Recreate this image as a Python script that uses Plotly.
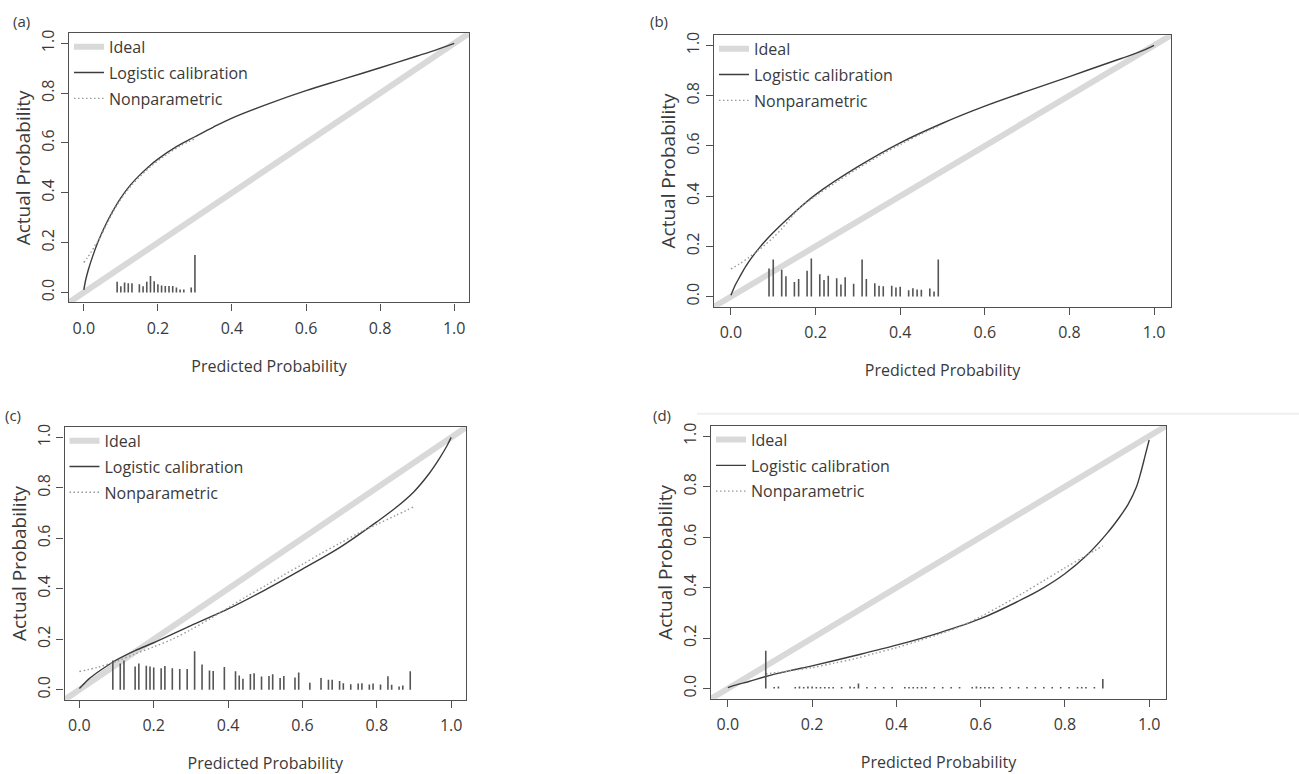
import plotly.graph_objects as go

# ---------------- data ----------------
ideal_x = [-0.1, 1.1]
ideal_y = [-0.1, 1.1]

# (a)
a_log_x = [0, 0.005, 0.013, 0.025, 0.036, 0.055, 0.075, 0.10, 0.125, 0.15, 0.175, 0.20, 0.25, 0.30, 0.35, 0.40, 0.50, 0.60, 0.70, 0.80, 0.90, 0.95, 1.0]
a_log_y = [0.01, 0.05, 0.095, 0.15, 0.195, 0.26, 0.318, 0.38, 0.43, 0.47, 0.505, 0.535, 0.585, 0.625, 0.664, 0.70, 0.758, 0.81, 0.856, 0.902, 0.949, 0.973, 1.0]
a_np_x = [0.0, 0.01, 0.02, 0.03, 0.04, 0.06, 0.09, 0.13, 0.18, 0.22, 0.26, 0.30]
a_np_y = [0.12, 0.14, 0.163, 0.188, 0.21, 0.268, 0.352, 0.432, 0.505, 0.55, 0.588, 0.617]
a_spk_x = [0.09, 0.10, 0.11, 0.12, 0.13, 0.15, 0.16, 0.17, 0.18, 0.19, 0.20, 0.21, 0.22, 0.23, 0.24, 0.25, 0.26, 0.27, 0.29, 0.30]
a_spk_h = [0.043, 0.025, 0.040, 0.037, 0.037, 0.033, 0.025, 0.043, 0.066, 0.045, 0.033, 0.028, 0.026, 0.026, 0.026, 0.020, 0.012, 0.012, 0.020, 0.150]

# (b)
b_log_x = [0, 0.01, 0.02, 0.035, 0.05, 0.07, 0.10, 0.15, 0.20, 0.30, 0.40, 0.50, 0.60, 0.70, 0.80, 0.90, 0.95, 0.98, 1.0]
b_log_y = [0.005, 0.045, 0.076, 0.12, 0.157, 0.20, 0.255, 0.335, 0.406, 0.517, 0.612, 0.69, 0.758, 0.818, 0.876, 0.935, 0.964, 0.984, 1.0]
b_np_x = [0, 0.02, 0.04, 0.06, 0.08, 0.10, 0.12, 0.14, 0.16, 0.20, 0.25, 0.30, 0.35, 0.40, 0.45, 0.49]
b_np_y = [0.11, 0.13, 0.153, 0.178, 0.205, 0.235, 0.27, 0.31, 0.35, 0.40, 0.457, 0.51, 0.56, 0.605, 0.648, 0.678]
b_spk_x = [0.09, 0.10, 0.12, 0.13, 0.15, 0.16, 0.18, 0.19, 0.21, 0.22, 0.23, 0.25, 0.26, 0.27, 0.29, 0.31, 0.32, 0.34, 0.35, 0.36,
           0.38, 0.39, 0.40, 0.42, 0.43, 0.44, 0.45, 0.47, 0.48, 0.49]
b_spk_h = [0.112, 0.148, 0.107, 0.081, 0.058, 0.070, 0.103, 0.152, 0.089, 0.066, 0.083, 0.073, 0.048, 0.077, 0.051, 0.148, 0.070, 0.053, 0.043, 0.041,
           0.043, 0.036, 0.039, 0.025, 0.033, 0.028, 0.027, 0.032, 0.020, 0.148]

# (c)
c_log_x = [0, 0.01, 0.025, 0.05, 0.075, 0.10, 0.15, 0.20, 0.30, 0.40, 0.50, 0.60, 0.70, 0.80, 0.85, 0.90, 0.94, 0.97, 0.99, 1.0]
c_log_y = [0.005, 0.02, 0.042, 0.07, 0.095, 0.118, 0.155, 0.186, 0.254, 0.32, 0.396, 0.478, 0.563, 0.665, 0.72, 0.785, 0.855, 0.92, 0.97, 1.0]
c_np_x = [0, 0.05, 0.10, 0.15, 0.20, 0.25, 0.30, 0.35, 0.40, 0.45, 0.50, 0.55, 0.60, 0.65, 0.70, 0.75, 0.80, 0.85, 0.90]
c_np_y = [0.072, 0.089, 0.112, 0.142, 0.17, 0.20, 0.238, 0.28, 0.325, 0.37, 0.412, 0.455, 0.497, 0.54, 0.58, 0.62, 0.655, 0.69, 0.725]
c_spk_x = [0.09, 0.11, 0.12, 0.15, 0.16, 0.18, 0.19, 0.20, 0.22, 0.23, 0.25, 0.27, 0.29, 0.31, 0.33, 0.35, 0.36, 0.39, 0.42, 0.43,
           0.44, 0.46, 0.47, 0.49, 0.51, 0.52, 0.54, 0.55, 0.58, 0.59, 0.62, 0.65, 0.67, 0.68, 0.70, 0.71, 0.73, 0.75, 0.76, 0.78,
           0.79, 0.81, 0.83, 0.84, 0.86, 0.87, 0.89]
c_spk_h = [0.116, 0.104, 0.116, 0.092, 0.104, 0.095, 0.092, 0.088, 0.085, 0.094, 0.085, 0.082, 0.082, 0.152, 0.100, 0.076, 0.074, 0.090, 0.073, 0.056,
           0.043, 0.062, 0.065, 0.052, 0.054, 0.061, 0.046, 0.054, 0.048, 0.068, 0.028, 0.046, 0.039, 0.039, 0.034, 0.026, 0.022, 0.025, 0.026, 0.021,
           0.025, 0.021, 0.053, 0.020, 0.013, 0.017, 0.073]

# (d)
d_log_x = [0, 0.02, 0.05, 0.09, 0.15, 0.20, 0.30, 0.40, 0.50, 0.60, 0.70, 0.75, 0.80, 0.85, 0.90, 0.93, 0.95, 0.97, 0.98, 0.99, 1.0]
d_log_y = [0.004, 0.015, 0.028, 0.048, 0.072, 0.09, 0.13, 0.172, 0.22, 0.277, 0.355, 0.40, 0.455, 0.525, 0.615, 0.68, 0.73, 0.80, 0.855, 0.92, 0.985]
d_np_x = [0.09, 0.12, 0.15, 0.20, 0.25, 0.30, 0.35, 0.40, 0.45, 0.50, 0.55, 0.60, 0.65, 0.70, 0.75, 0.80, 0.85, 0.89]
d_np_y = [0.058, 0.064, 0.071, 0.083, 0.10, 0.118, 0.14, 0.162, 0.188, 0.215, 0.245, 0.285, 0.33, 0.378, 0.428, 0.478, 0.527, 0.565]
d_spk_x = [0.09, 0.11, 0.12, 0.16, 0.17, 0.18, 0.19, 0.20, 0.21, 0.22, 0.23, 0.24, 0.25, 0.27, 0.29, 0.30, 0.31, 0.33, 0.35, 0.37,
           0.39, 0.42, 0.43, 0.44, 0.45, 0.46, 0.47, 0.49, 0.51, 0.53, 0.55, 0.58, 0.59, 0.60, 0.61, 0.62, 0.63, 0.65, 0.67, 0.69,
           0.71, 0.73, 0.75, 0.77, 0.79, 0.81, 0.83, 0.84, 0.85, 0.87, 0.89]
d_spk_h = [0.150, 0.006, 0.008, 0.006, 0.008, 0.006, 0.008, 0.008, 0.006, 0.006, 0.006, 0.006, 0.006, 0.006, 0.008, 0.006, 0.020, 0.006, 0.006, 0.006,
           0.006, 0.006, 0.006, 0.006, 0.006, 0.006, 0.006, 0.006, 0.006, 0.006, 0.006, 0.006, 0.008, 0.006, 0.006, 0.006, 0.006, 0.006, 0.006, 0.006,
           0.006, 0.006, 0.006, 0.006, 0.006, 0.006, 0.006, 0.006, 0.006, 0.006, 0.038]

panel_labels = ["(a)", "(b)", "(c)", "(d)"]
legend_names = ["Ideal", "Logistic calibration", "Nonparametric"]
x_title = "Predicted Probability"
y_title = "Actual Probability"
tick_vals = [0.0, 0.2, 0.4, 0.6, 0.8, 1.0]
tick_text = ["0.0", "0.2", "0.4", "0.6", "0.8", "1.0"]

# ---------------- layout geometry (pixels of a 1299x774 canvas) ----------------
W, H = 1299, 774
boxes = [  # left, right, top, bottom
    (69, 469, 29.5, 300),
    (714, 1171, 31.5, 304.2),
    (64.5, 466, 425.5, 699.4),
    (711, 1166, 424.3, 698.3),
]
label_pos = [(21, 17), (659, 17), (13, 413), (662, 413)]

FONT = "Open Sans"
TXT = "#3a3a3a"
AX = "#505050"

panels = [
    (a_log_x, a_log_y, a_np_x, a_np_y, a_spk_x, a_spk_h),
    (b_log_x, b_log_y, b_np_x, b_np_y, b_spk_x, b_spk_h),
    (c_log_x, c_log_y, c_np_x, c_np_y, c_spk_x, c_spk_h),
    (d_log_x, d_log_y, d_np_x, d_np_y, d_spk_x, d_spk_h),
]

fig = go.Figure()
layout = dict(
    width=W, height=H,
    margin=dict(l=0, r=0, t=0, b=0),
    paper_bgcolor="white", plot_bgcolor="white",
    font=dict(family=FONT, size=16, color=TXT),
    annotations=[], shapes=[],
)

for i, (lx, ly, nx, ny, sx, sh) in enumerate(panels):
    n = "" if i == 0 else str(i + 1)
    xa, ya = "x" + n, "y" + n
    leg = "legend" + n
    L, R, T, B = boxes[i]
    xdom = [L / W, R / W]
    ydom = [1 - B / H, 1 - T / H]

    fig.add_trace(go.Scatter(x=ideal_x, y=ideal_y, mode="lines", name=legend_names[0], legendgroup="g1" + n,
                             line=dict(color="#d9d9d9", width=6), xaxis=xa, yaxis=ya, legend=leg))
    fig.add_trace(go.Scatter(x=lx, y=ly, mode="lines", name=legend_names[1], line_shape="spline", legendgroup="g2" + n,
                             line=dict(color="#3c3c3c", width=1.4, smoothing=0.9), xaxis=xa, yaxis=ya, legend=leg))
    fig.add_trace(go.Scatter(x=nx, y=ny, mode="lines", name=legend_names[2], line_shape="spline", legendgroup="g3" + n,
                             line=dict(color="#999999", width=1.4, dash="1.5px,2.5px", smoothing=0.9),
                             xaxis=xa, yaxis=ya, legend=leg))
    spx, spy = [], []
    for xv, hv in zip(sx, sh):
        spx += [xv, xv, None]
        spy += [0, hv, None]
    fig.add_trace(go.Scatter(x=spx, y=spy, mode="lines", showlegend=False,
                             line=dict(color="#555555", width=1.6), xaxis=xa, yaxis=ya, hoverinfo="skip"))

    common = dict(range=[-0.04, 1.04], showgrid=False, zeroline=False, showline=True, mirror=True,
                  linecolor=AX, linewidth=1.4, ticks="outside", ticklen=7, tickwidth=1.2, tickcolor=AX,
                  tickvals=tick_vals, ticktext=tick_text, tickfont=dict(size=16, color=TXT, family=FONT))
    layout["xaxis" + n] = dict(common, domain=xdom, anchor=ya, ticklabelstandoff=4,
                               title=dict(text=x_title, font=dict(size=16, color=TXT), standoff=22))
    layout["yaxis" + n] = dict(common, domain=ydom, anchor=xa, tickangle=-90,
                               title=dict(text=y_title, font=dict(size=19, color=TXT), standoff=1))
    layout[leg] = dict(x=L / W, y=1 - (T - 3.5) / H, xanchor="left", yanchor="top",
                       bgcolor="rgba(0,0,0,0)", borderwidth=0, font=dict(size=16, color=TXT, family=FONT),
                       traceorder="grouped", tracegroupgap=2)
    lx0, ly0 = label_pos[i]
    layout["annotations"].append(dict(text=panel_labels[i], x=lx0 / W, y=1 - ly0 / H, xref="paper", yref="paper",
                                      showarrow=False, font=dict(size=15, color=TXT), xanchor="center", yanchor="middle"))

layout["shapes"].append(dict(type="line", xref="paper", yref="paper", x0=697 / W, x1=1, y0=1 - 412 / H, y1=1 - 412 / H,
                             line=dict(color="#efefef", width=2)))

fig.update_layout(**layout)
fig.write_html("out.html", config={"displayModeBar": False},
               post_script="document.body.style.margin='0px';document.body.style.overflow='hidden';")
